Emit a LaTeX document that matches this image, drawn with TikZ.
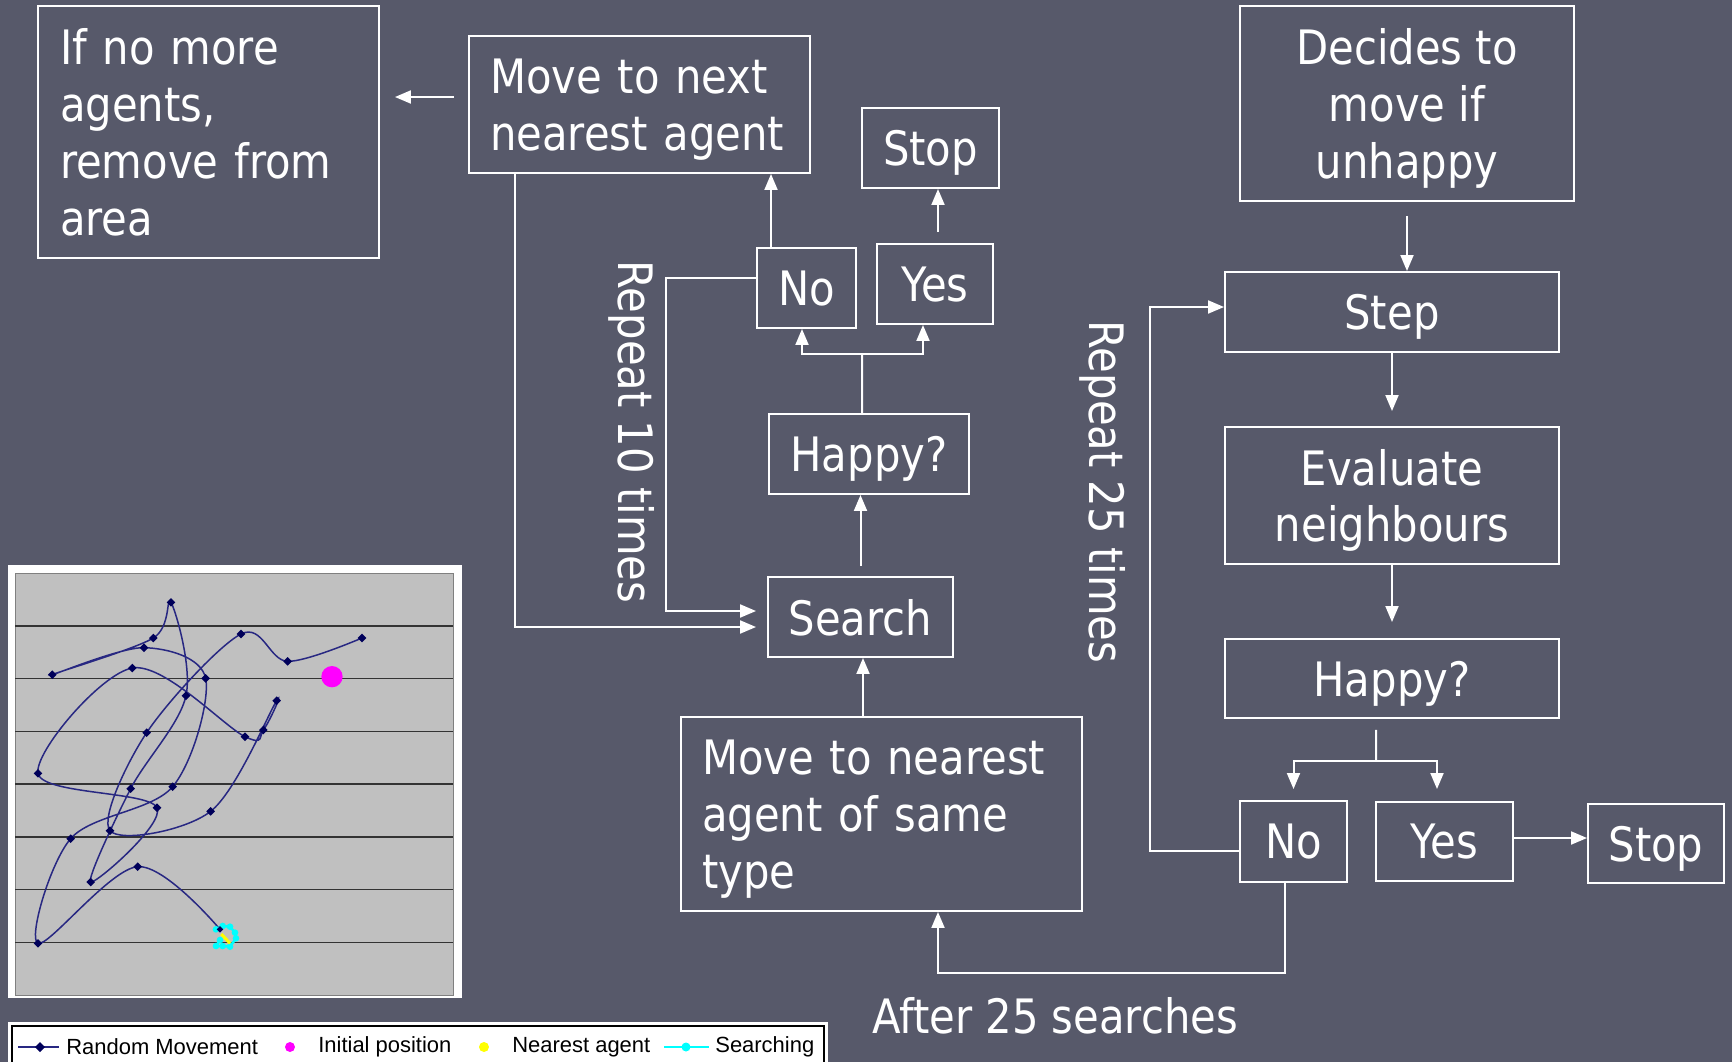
\documentclass[tikz,border=0pt]{standalone}
\usepackage{fontspec}
\setmainfont{DejaVu Sans}[FakeStretch=0.88]
\newfontfamily\legendfont{Liberation Sans}
\usetikzlibrary{arrows.meta}
\definecolor{slidebg}{RGB}{87,89,106}
\definecolor{plotgrey}{RGB}{192,192,192}
\definecolor{walkblue}{RGB}{40,40,130}
\definecolor{markblue}{RGB}{0,0,90}
\definecolor{startpink}{RGB}{255,0,255}
\definecolor{searchcyan}{RGB}{0,255,255}
\definecolor{agentyellow}{RGB}{255,255,0}
\newcommand{\boxfont}{\fontsize{27}{32.4}\selectfont}
\newcommand{\legfont}{\legendfont\fontsize{12.5}{14}\selectfont}

\begin{document}
\begin{tikzpicture}[x=0.02cm, y=-0.02cm,
    box/.style={draw=white, line width=0.04cm, text=white, font=\boxfont,
                inner sep=0pt, align=center, text depth=0pt},
    lbox/.style={box, align=left, inner xsep=0.42cm},
    link/.style={draw=white, line width=0.04cm},
    arr/.style={link, -{Triangle[length=0.32cm, width=0.26cm]}},
    looptext/.style={text=white, font=\boxfont, inner sep=0pt},
    legtext/.style={text=black, font=\legfont, inner sep=0pt, anchor=west}]
\useasboundingbox (0,0) rectangle (1732,1062);
\fill[slidebg] (0,0) rectangle (1732,1062);
\clip (0,0) rectangle (1732,1062);

% left loop
\node[lbox, inner xsep=0.44cm, text width=5.94cm, minimum height=5.04cm, text depth=97.2pt]
    (noagents) at (208.5,132) {If no more\\agents,\\remove from\\area};
\node[lbox, text width=5.98cm, minimum height=2.74cm, text depth=32.4pt] (nextagent) at (639.5,104.5)
    {Move to next\\nearest agent};
\node[box, minimum width=2.74cm, minimum height=1.6cm] (stopA) at (930.5,148) {Stop};
\node[box, minimum width=1.98cm, minimum height=1.6cm] (noA) at (806.5,288) {No};
\node[box, minimum width=2.32cm, minimum height=1.6cm] (yesA) at (935,284) {Yes};
\node[box, minimum width=4.0cm, minimum height=1.6cm] (happyA) at (869,454) {Happy?};
\node[box, minimum width=3.7cm, minimum height=1.6cm] (search) at (860.5,617) {Search};
\node[lbox, text width=7.18cm, minimum height=3.88cm, text depth=64.8pt] (nearest) at (881.5,814)
    {Move to nearest\\agent of same\\type};

% right loop
\node[box, minimum width=6.68cm, minimum height=3.9cm] (decides) at (1407,103.5)
    {Decides to\\move if\\unhappy};
\node[box, minimum width=6.68cm, minimum height=1.6cm] (stepbox) at (1392,312) {Step};
\node[box, minimum width=6.68cm, minimum height=2.74cm] (evaluate) at (1392,495.5)
    {Evaluate\\neighbours};
\node[box, minimum width=6.68cm, minimum height=1.58cm] (happyB) at (1392,678.5) {Happy?};
\node[box, minimum width=2.14cm, minimum height=1.62cm] (noB) at (1293.5,841.5) {No};
\node[box, minimum width=2.74cm, minimum height=1.58cm] (yesB) at (1444.5,841.5) {Yes};
\node[box, minimum width=2.72cm, minimum height=1.58cm] (stopB) at (1656,843.5) {Stop};

\node[looptext, rotate=-90] (repeatten) at (632,432) {Repeat 10 times};
\node[looptext, rotate=-90] (repeattwentyfive) at (1103,492) {Repeat 25 times};
\node[looptext, anchor=base] (aftersearches) at (1055,1033) {After 25 searches};

\coordinate (forkA) at (862,354);
\coordinate (loopA) at (666,611);
\coordinate (loopB) at (515,627);
\coordinate (forkB) at (1376,761);
\coordinate (loopC) at (1150,307);
\coordinate (loopD) at (938,973);

\draw[arr, shorten <=0.28cm, shorten >=0.3cm] ([yshift=0.15cm]nextagent.west)
    -- ([yshift=0.15cm]nextagent.west -| noagents.east);
\draw[arr] ([xshift=-0.71cm]noA.north) -- ([xshift=-0.71cm]noA.north |- nextagent.south);
\draw[arr, shorten <=0.22cm] ([xshift=0.06cm]yesA.north) -- ([xshift=0.06cm]yesA.north |- stopA.south);
\draw[link] ([xshift=-0.14cm]happyA.north) -- (forkA);
\draw[arr] (forkA) -| ([xshift=-0.09cm]noA.south);
\draw[arr] (forkA) -| ([xshift=-0.24cm]yesA.south);
\draw[arr, shorten <=0.2cm] (search.north) -- (search.north |- happyA.south);
\draw[arr] ([xshift=-0.37cm]nearest.north) -- ([xshift=-0.37cm]nearest.north |- search.south);
\draw[arr, shorten >=0.22cm] ([yshift=0.2cm]noA.west) -| (loopA) -- (loopA -| search.west);
\draw[arr, shorten >=0.22cm] (loopB |- nextagent.south) -- (loopB) -- (loopB -| search.west);

\draw[arr, shorten <=0.28cm] (decides.south) -- (decides.south |- stepbox.north);
\draw[arr, shorten >=0.3cm] (stepbox.south) -- (evaluate.north);
\draw[arr, shorten >=0.32cm] (evaluate.south) -- (happyB.north);
\draw[link, shorten <=0.22cm] ([xshift=-0.32cm]happyB.south) -- (forkB);
\draw[arr, shorten >=0.22cm] (forkB) -| (noB.north);
\draw[arr, shorten >=0.24cm] (forkB) -| ([xshift=-0.15cm]yesB.north);
\draw[arr] ([yshift=0.07cm]yesB.east) -- ([yshift=0.07cm]yesB.east -| stopB.west);
\draw[arr] ([yshift=-0.19cm]noB.west) -| (loopC) -- (loopC -| stepbox.west);
\draw[arr] ([xshift=-0.17cm]noB.south) |- (loopD) -- (loopD |- nearest.south);

% chart of the walk
\fill[white] (8,565) rectangle (462,998);
\draw[fill=plotgrey, draw=gray] (15,573) rectangle (453,995);
\foreach \k in {1,2,...,7}
    \draw[line width=0.03cm, black!80] (15,573+52.75*\k) -- (453,573+52.75*\k);
\begin{scope}[shift={(0,560)}, scale=1/3]
\draw[walkblue, line width=0.03cm] plot[smooth, tension=0.55] coordinates {
    (1086,234) (863,304) (723,222) (440,518) (330,812) (632,754) (830,422)
    (790,510) (735,530) (397,324) (114,640) (471,743) (272,966) (392,686)
    (558,407) (513,127) (460,234) (157,344) (432,263) (617,355) (518,680)
    (212,836) (114,1150) (413,920) (660,1108)};
\foreach \x/\y in {1086/234, 863/304, 723/222, 440/518, 330/812, 632/754, 830/422,
    790/510, 735/530, 397/324, 114/640, 471/743, 272/966, 392/686, 558/407,
    513/127, 460/234, 157/344, 432/263, 617/355, 518/680, 212/836, 114/1150, 413/920}
    \fill[markblue] (\x,\y) +(0,-13) -- +(13,0) -- +(0,13) -- +(-13,0) -- cycle;
\fill[startpink] (996,350) circle (0.64cm);
\draw[searchcyan, line width=0.05cm] (648,1108) -- (668,1098) -- (690,1100) -- (705,1118)
    -- (708,1135) -- (690,1160) -- (668,1158) -- (648,1158) -- (660,1140);
\foreach \x/\y in {648/1108, 668/1098, 690/1100, 705/1118, 708/1135, 690/1160,
    668/1158, 648/1158, 660/1140}
    \fill[searchcyan] (\x,\y) circle (0.2cm);
\draw[agentyellow, line width=0.06cm] (664,1122) -- (690,1150);
\fill[markblue] (660,1108) +(0,-10) -- +(10,0) -- +(0,10) -- +(-10,0) -- cycle;
\end{scope}

% legend
\fill[white] (8,1022) rectangle (828,1075);
\draw[black, line width=0.03cm] (12,1026) rectangle (824,1075);
\draw[walkblue, line width=0.03cm] (18,1047) -- (59,1047);
\fill[markblue] (40,1047) +(0,-5) -- +(5,0) -- +(0,5) -- +(-5,0) -- cycle;
\node[legtext] (legwalk) at (66,1047) {Random Movement};
\fill[startpink] (290,1047) circle (0.1cm);
\node[legtext] (legstart) at (318,1047) {Initial position};
\fill[agentyellow] (484,1047) circle (0.1cm);
\node[legtext] (legnearest) at (512,1047) {Nearest agent};
\draw[searchcyan, line width=0.03cm] (664,1047) -- (709,1047);
\fill[searchcyan] (686,1047) circle (0.09cm);
\node[legtext] (legsearch) at (715,1047) {Searching};
\end{tikzpicture}
\end{document}
